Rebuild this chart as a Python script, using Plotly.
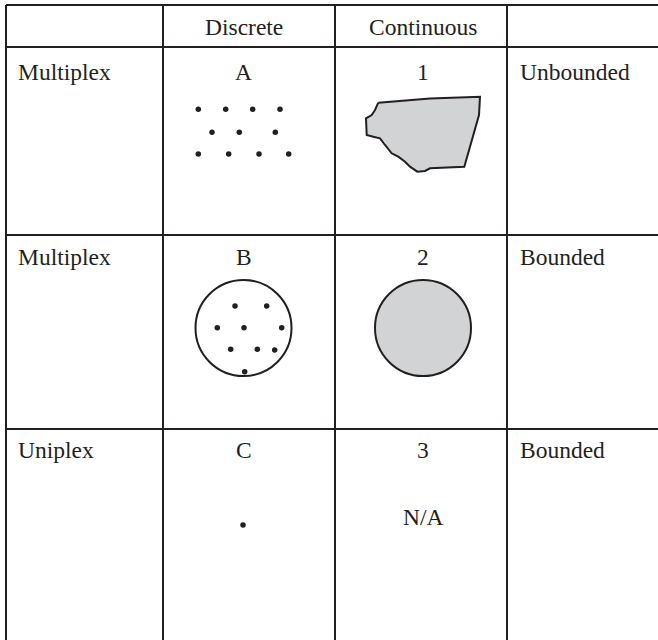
import plotly.graph_objects as go

# ---- data ----
col_headers = ["", "Discrete", "Continuous", ""]
row_labels = ["Multiplex", "Multiplex", "Uniplex"]
discrete_ids = ["A", "B", "C"]
continuous_ids = ["1", "2", "3"]
boundedness = ["Unbounded", "Bounded", "Bounded"]
na_text = "N/A"

# illustration points (pixel-space diagram coordinates)
dots_a_x = [198.3, 225.7, 252.7, 280.0, 212.0, 239.3, 275.3, 198.3, 228.7, 259.0, 288.7]
dots_a_y = [109.3, 109.3, 109.3, 109.3, 132.3, 132.3, 132.3, 154.0, 154.0, 154.0, 154.0]
dots_b_x = [235.0, 266.7, 217.3, 244.0, 281.7, 230.7, 257.3, 274.7, 244.7]
dots_b_y = [306.0, 306.0, 327.7, 327.7, 327.7, 349.3, 349.3, 350.0, 371.7]
dot_c_x = [243.0]
dot_c_y = [525.0]
blob_x = [378.3, 430.0, 480.0, 479.0, 464.3, 430.0, 425.0, 417.3, 410.0, 405.0, 398.3,
          391.7, 385.0, 380.0, 373.3, 366.7, 366.0, 371.7, 375.0, 378.3]
blob_y = [102.7, 98.5, 96.7, 115.0, 166.7, 168.3, 171.0, 171.7, 166.7, 161.7, 156.7,
          153.3, 145.0, 138.3, 136.7, 135.0, 118.3, 115.0, 110.0, 102.7]

# ---- layout geometry ----
W, H = 658, 640
col_lines = [6, 163, 335, 507]
row_lines = [5, 47, 235, 429]
row_text_y = [72, 257, 450]
header_y = 27
disc_cx = 243.5
cont_cx = 423
left_x = 15.5
right_x = 518
INK = "#231f20"
GRAY = "#d1d3d4"
FONT = dict(family="Liberation Serif, Times New Roman, serif", size=23.5, color=INK)

fig = go.Figure()

shapes = []
for y in row_lines:
    shapes.append(dict(type="line", xref="x", yref="y", x0=col_lines[0], x1=W + 10, y0=y, y1=y,
                       line=dict(color=INK, width=2)))
for x in col_lines:
    shapes.append(dict(type="line", xref="x", yref="y", x0=x, x1=x, y0=row_lines[0], y1=H + 10,
                       line=dict(color=INK, width=2)))
r = 48
shapes.append(dict(type="circle", xref="x", yref="y", x0=disc_cx - r, x1=disc_cx + r,
                   y0=328 - r, y1=328 + r, line=dict(color=INK, width=2), fillcolor="white", layer="below"))
shapes.append(dict(type="circle", xref="x", yref="y", x0=cont_cx - r, x1=cont_cx + r,
                   y0=328 - r, y1=328 + r, line=dict(color=INK, width=2), fillcolor=GRAY, layer="below"))

fig.add_trace(go.Scatter(x=blob_x, y=blob_y, mode="lines", fill="toself", fillcolor=GRAY,
                         line=dict(color=INK, width=2), hoverinfo="skip"))
for xs, ys in [(dots_a_x, dots_a_y), (dots_b_x, dots_b_y), (dot_c_x, dot_c_y)]:
    fig.add_trace(go.Scatter(x=xs, y=ys, mode="markers",
                             marker=dict(color=INK, size=5.5, line=dict(width=0)), hoverinfo="skip"))

ann = []
ann.append(dict(x=disc_cx, y=header_y, text=col_headers[1], xanchor="center"))
ann.append(dict(x=cont_cx, y=header_y, text=col_headers[2], xanchor="center"))
for i in range(3):
    ann.append(dict(x=left_x, y=row_text_y[i], text=row_labels[i], xanchor="left"))
    ann.append(dict(x=disc_cx, y=row_text_y[i], text=discrete_ids[i], xanchor="center"))
    ann.append(dict(x=cont_cx, y=row_text_y[i], text=continuous_ids[i], xanchor="center"))
    ann.append(dict(x=right_x, y=row_text_y[i], text=boundedness[i], xanchor="left"))
ann.append(dict(x=cont_cx, y=517, text=na_text, xanchor="center"))
for a in ann:
    a.update(xref="x", yref="y", yanchor="middle", showarrow=False, font=FONT)

fig.update_layout(
    width=W, height=H, margin=dict(l=0, r=0, t=0, b=0),
    paper_bgcolor="white", plot_bgcolor="white", showlegend=False,
    shapes=shapes, annotations=ann,
    xaxis=dict(range=[0, W], visible=False, fixedrange=True),
    yaxis=dict(range=[H, 0], visible=False, fixedrange=True),
)
fig.write_html("out.html", config={"displayModeBar": False, "staticPlot": True},
               post_script="document.body.style.margin='0';document.body.style.overflow='hidden';")
